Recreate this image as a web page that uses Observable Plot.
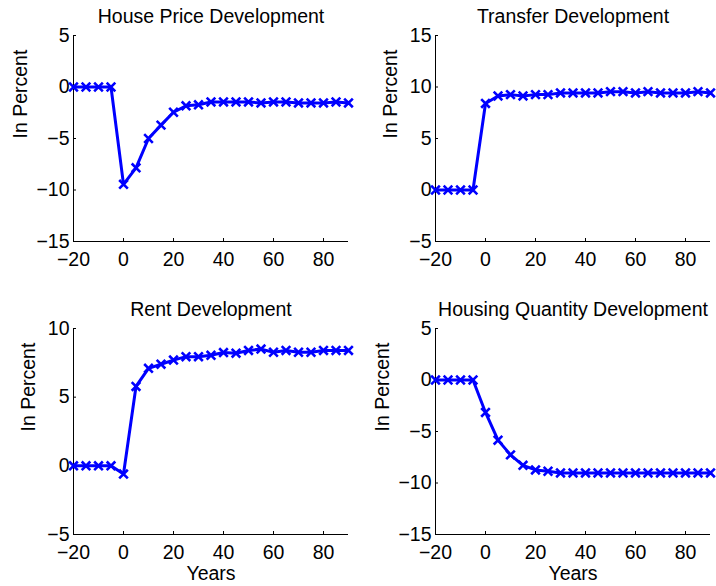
<!DOCTYPE html>
<html>
<head>
<meta charset="utf-8">
<script src="https://cdn.jsdelivr.net/npm/d3@7"></script>
<script src="https://cdn.jsdelivr.net/npm/@observablehq/plot@0.6"></script>
<style>
  html, body { margin: 0; padding: 0; background: #fff; }
  #figure { position: relative; width: 716px; height: 586px; overflow: hidden; background: #fff; }
  #figure svg { position: absolute; }
</style>
</head>
<body>
<div id="figure"></div>
<script>
// Simulated response paths, in percent deviation, every 5 years
const years = [-20, -15, -10, -5, 0, 5, 10, 15, 20, 25, 30, 35, 40, 45, 50, 55, 60, 65, 70, 75, 80, 85, 90];

const housePrice = [0, 0, 0, 0, -9.45, -7.85, -5.0, -3.7, -2.45, -1.83, -1.73, -1.45, -1.45, -1.45, -1.45, -1.55, -1.45, -1.45, -1.55, -1.55, -1.55, -1.45, -1.55];
const transfer = [0, 0, 0, 0, 8.4, 9.13, 9.26, 9.13, 9.26, 9.26, 9.42, 9.42, 9.42, 9.42, 9.55, 9.55, 9.42, 9.55, 9.42, 9.42, 9.42, 9.55, 9.42];
const rent = [0, 0, 0, 0, -0.6, 5.78, 7.1, 7.4, 7.7, 7.95, 7.95, 8.05, 8.25, 8.2, 8.4, 8.5, 8.27, 8.4, 8.27, 8.27, 8.4, 8.4, 8.4];
const housingQuantity = [0, 0, 0, 0, -3.15, -5.84, -7.27, -8.28, -8.73, -8.86, -9.02, -9.02, -9.02, -9.02, -9.02, -9.02, -9.02, -9.02, -9.02, -9.02, -9.02, -9.02, -9.02];

const titles = ["House Price Development", "Transfer Development", "Rent Development", "Housing Quantity Development"];
const xDomain = [-20, 90];
const xTicks = [-20, 0, 20, 40, 60, 80];
const yTicksHouse = [-15, -10, -5, 0, 5];
const yTicksTransfer = [-5, 0, 5, 10, 15];
const yTicksRent = [-5, 0, 5, 10];
const yTicksQuantity = [-15, -10, -5, 0, 5];
const yLabel = "In Percent";
const xLabel = "Years";

const blue = "#0000ff";
const font = "'Liberation Sans', Arial, Helvetica, sans-serif";

function panel({values, title, yTicks, showX, left, top, marginLeft, marginRight, labelGap}) {
  const data = years.map((x, i) => ({x, y: values[i]}));
  const yDomain = [yTicks[0], yTicks[yTicks.length - 1]];
  const svg = Plot.plot({
    width: 358,
    height: 293,
    marginLeft,
    marginRight,
    marginTop: 35,
    marginBottom: 52,
    style: {fontFamily: font, fontSize: "19.5px", color: "#000", background: "transparent", overflow: "visible"},
    x: {domain: xDomain},
    y: {domain: yDomain},
    marks: [
      Plot.axisX(xTicks, {tickSize: -3, tickPadding: 14, label: null}),
      Plot.axisY(yTicks, {tickSize: -3, tickPadding: 7, label: null}),
      Plot.ruleX([xDomain[0]], {stroke: "#000"}),
      Plot.ruleY([yDomain[0]], {stroke: "#000"}),
      Plot.line(data, {x: "x", y: "y", stroke: blue, strokeWidth: 3}),
      Plot.dot(data, {x: "x", y: "y", symbol: "times", r: 4, stroke: blue, strokeWidth: 2.6}),
      Plot.text([title], {text: d => d, frameAnchor: "top", lineAnchor: "top", dy: -26}),
      Plot.text([yLabel], {text: d => d, frameAnchor: "left", rotate: -90, lineAnchor: "bottom", dx: -labelGap}),
      showX ? Plot.text([xLabel], {text: d => d, frameAnchor: "bottom", lineAnchor: "top", dy: 32}) : null
    ]
  });
  svg.style.left = left + "px";
  svg.style.top = top + "px";
  return svg;
}

const figure = document.getElementById("figure");
figure.append(
  panel({values: housePrice, title: titles[0], yTicks: yTicksHouse, showX: false, left: 0, top: 0, marginLeft: 73, marginRight: 10, labelGap: 47}),
  panel({values: transfer, title: titles[1], yTicks: yTicksTransfer, showX: false, left: 358, top: 0, marginLeft: 77, marginRight: 6, labelGap: 39}),
  panel({values: rent, title: titles[2], yTicks: yTicksRent, showX: true, left: 0, top: 293, marginLeft: 73, marginRight: 10, labelGap: 39}),
  panel({values: housingQuantity, title: titles[3], yTicks: yTicksQuantity, showX: true, left: 358, top: 293, marginLeft: 77, marginRight: 6, labelGap: 47})
);
</script>
</body>
</html>
